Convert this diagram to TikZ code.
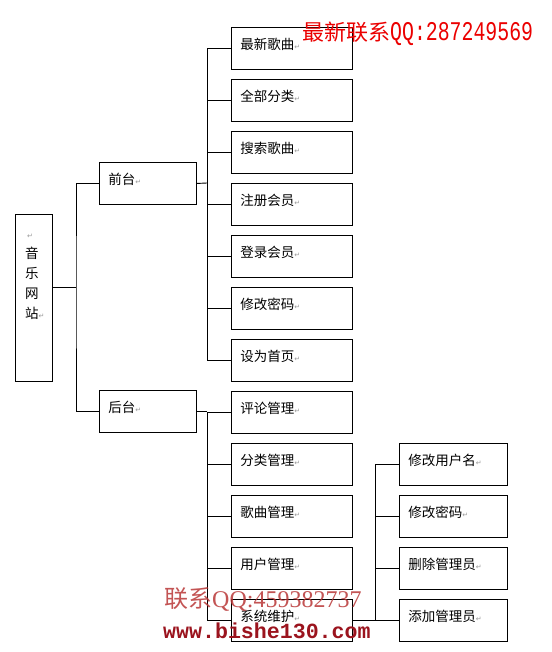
\documentclass[tikz,border=0pt]{standalone}
\usepackage{fontspec}
\usepackage{graphicx}
\setmainfont{Liberation Serif}
\newfontfamily\cjk{Noto Sans CJK SC}
\newfontfamily\dejavu{DejaVu Sans}
\newfontfamily\wmmono{Liberation Mono}
\newfontfamily\wmserif{Liberation Serif}
\definecolor{wmred}{RGB}{235,0,0}
\definecolor{wmbrown}{RGB}{185,55,55}
\definecolor{wmdark}{RGB}{155,20,30}
\newcommand\retmk{{\dejavu\color{black!40}\fontsize{7}{7}\selectfont ↵}}
\tikzset{
  boxbase/.style={draw, line width=0.9pt, anchor=north west, inner ysep=0pt, inner xsep=9pt,
    align=left, minimum height=42pt, text height=22pt, text depth=20pt,
    font=\cjk\fontsize{13.5}{16}\selectfont},
  lvone/.style={boxbase, text width=79pt},
  lvtwo/.style={boxbase, text width=103pt},
  lvthree/.style={boxbase, text width=90pt},
  conn/.style={line width=0.9pt},
  wm/.style={anchor=base west, inner sep=0pt}
}
\begin{document}
\begin{tikzpicture}[x=1pt,y=-1pt]
\fill[white] (0,0) rectangle (551,652);
\useasboundingbox (0,0) rectangle (551,652);

% root
\node[draw, line width=0.9pt, anchor=north west, minimum width=37pt, minimum height=167pt, inner sep=0pt] (root) at (15,214) {};
\node[anchor=north west, inner sep=0pt, align=left, font=\cjk\fontsize{13.5}{20}\selectfont] (roottxt) at (25,224)
  {\strut\hspace{2pt}\retmk\\\strut 音\\\strut 乐\\\strut 网\\\strut 站\retmk};

% level 1
\node[lvone] (front) at (99,162) {前台\retmk};
\node[lvone] (back) at (99,390) {后台\retmk};

% level 2
\foreach \t [count=\i from 0] in {最新歌曲,全部分类,搜索歌曲,注册会员,登录会员,修改密码,设为首页,评论管理,分类管理,歌曲管理,用户管理,系统维护}
  \node[lvtwo] (n\i) at (231,{27+52*\i}) {\t\retmk};

% level 3
\foreach \t [count=\j from 0] in {修改用户名,修改密码,删除管理员,添加管理员}
  \node[lvthree] (m\j) at (399,{443+52*\j}) {\t\retmk};

% connectors root
\coordinate (rj) at (76,287);
\draw[conn] (rj -| root.east) -- (rj);
\draw[conn] (front.west) -| (rj) |- (back.west);

% front
\coordinate (fj) at (207,183);
\draw[conn] (front.east) -- (fj);
\draw[conn] (fj |- n0.west) -- (fj |- n6.west);
\foreach \i in {0,...,6} \draw[conn] (fj |- n\i.west) -- (n\i.west);

% back
\coordinate (bj) at (207,412);
\draw[conn] (back.east) -- (bj |- back.east);
\draw[conn] (bj |- n7.west) -- (bj |- n11.west);
\foreach \i in {7,...,11} \draw[conn] (bj |- n\i.west) -- (n\i.west);

% system maintenance
\coordinate (sj) at (375,620);
\draw[conn] (n11.east) -- (m3.west);
\draw[conn] (sj |- m0.west) -- (sj |- m3.west);
\foreach \j in {0,...,2} \draw[conn] (sj |- m\j.west) -- (m\j.west);

% watermarks
\node[wm, text=wmred] (wm1) at (302,41)
  {{\cjk\fontsize{22}{22}\selectfont 最新联系}{\wmmono\fontsize{27}{27}\selectfont\scalebox{0.735}[1]{QQ:287249569}}};
\node[wm, text=wmbrown, text opacity=0.85] (wm2) at (164,607)
  {{\cjk\fontsize{24}{24}\selectfont 联系}{\wmserif\fontsize{24}{24}\selectfont QQ:459382737}};
\node[wm, text=wmdark] (wm3) at (163,638)
  {\wmmono\bfseries\fontsize{21.6}{21.6}\selectfont www.bishe130.com};
\end{tikzpicture}
\end{document}
